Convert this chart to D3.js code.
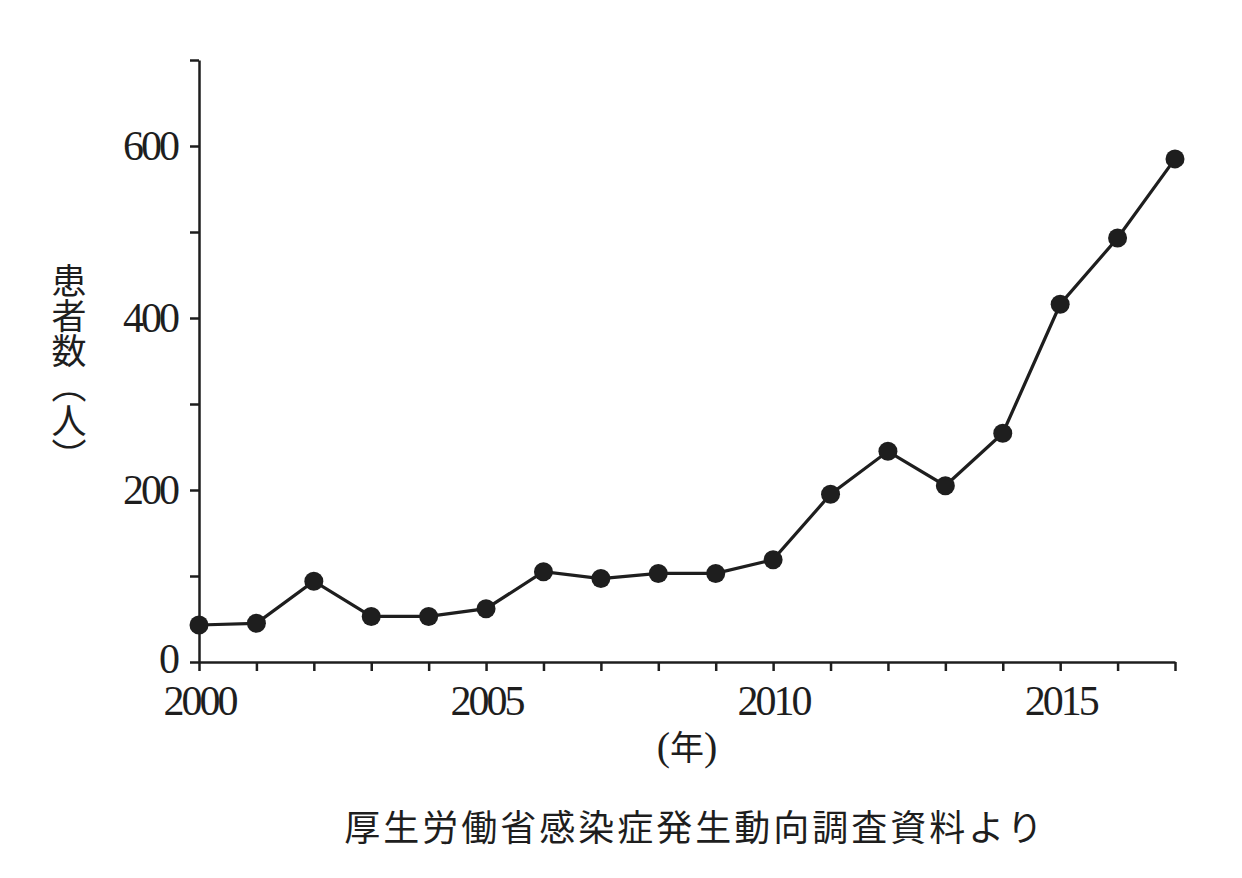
<!DOCTYPE html>
<html>
<head>
<meta charset="utf-8">
<script src="https://cdn.jsdelivr.net/npm/d3@7"></script>
<style>
body { margin: 0; background: #fff; }
</style>
</head>
<body>
<script>
var years = [2000, 2001, 2002, 2003, 2004, 2005, 2006, 2007, 2008, 2009,
             2010, 2011, 2012, 2013, 2014, 2015, 2016, 2017];
var patients = [43, 45, 94, 53, 53, 62, 105, 97, 103, 103,
                119, 195, 245, 205, 266, 416, 493, 585];
var yTicks = [0, 100, 200, 300, 400, 500, 600, 700];
var yLabels = [0, 200, 400, 600];
var xLabels = [2000, 2005, 2010, 2015];

var width = 1242, height = 878;
var ink = "#1e1e1e";
var numFont = "'Liberation Serif', 'DejaVu Serif', serif";
var cjkFont = "'Noto Sans CJK JP', 'Noto Sans CJK SC', sans-serif";

var svg = d3.select("body").append("svg")
    .attr("width", width)
    .attr("height", height);

var x = d3.scaleLinear().domain([2000, 2017]).range([199, 1175]);
var y = d3.scaleLinear().domain([0, 700]).range([662, 60]);

// y axis
var yAxis = svg.append("g")
    .attr("transform", "translate(" + x(2000) + ",0)")
    .call(d3.axisLeft(y)
        .tickValues(yTicks)
        .tickSize(9)
        .tickSizeOuter(0)
        .tickPadding(13)
        .tickFormat(function(d) { return yLabels.indexOf(d) >= 0 ? d : ""; }));

// the 0 label sits a touch higher so it clears 2000
yAxis.selectAll(".tick text")
    .filter(function(d) { return d === 0; })
    .attr("dy", "0.24em");

// x axis
var xAxis = svg.append("g")
    .attr("transform", "translate(0," + y(0) + ")")
    .call(d3.axisBottom(x)
        .tickValues(years)
        .tickSize(9)
        .tickSizeOuter(0)
        .tickPadding(14)
        .tickFormat(function(d) { return xLabels.indexOf(d) >= 0 ? d : ""; }));

svg.selectAll(".domain, .tick line")
    .attr("stroke", ink)
    .attr("stroke-width", 2.5);

svg.selectAll(".tick text")
    .attr("fill", ink)
    .attr("font-family", numFont)
    .attr("font-size", 42)
    .attr("letter-spacing", -3);

// line + markers
var line = d3.line()
    .x(function(d, i) { return x(years[i]); })
    .y(function(d) { return y(d); });

svg.append("path")
    .datum(patients)
    .attr("d", line)
    .attr("fill", "none")
    .attr("stroke", ink)
    .attr("stroke-width", 3.2);

svg.selectAll("circle.pt")
    .data(patients)
    .enter().append("circle")
    .attr("class", "pt")
    .attr("cx", function(d, i) { return x(years[i]); })
    .attr("cy", function(d) { return y(d); })
    .attr("r", 9.5)
    .attr("fill", ink);

// y title (vertical)
svg.append("text")
    .attr("x", 69)
    .attr("y", 263)
    .attr("writing-mode", "vertical-rl")
    .attr("font-family", cjkFont)
    .attr("font-size", 35)
    .attr("fill", ink)
    .attr("letter-spacing", 0)
    .text("患者数（人）");

// x title
var xt = svg.append("text")
    .attr("x", 687)
    .attr("y", 760)
    .attr("text-anchor", "middle")
    .attr("font-family", numFont)
    .attr("font-size", 40)
    .attr("fill", ink);
xt.append("tspan").text("(");
xt.append("tspan").attr("font-family", cjkFont).attr("font-size", 34).text("年");
xt.append("tspan").text(")");

// source
svg.append("text")
    .attr("x", 695)
    .attr("y", 841)
    .attr("text-anchor", "middle")
    .attr("font-family", cjkFont)
    .attr("font-size", 36)
    .attr("letter-spacing", 3)
    .attr("fill", ink)
    .text("厚生労働省感染症発生動向調査資料より");
</script>
</body>
</html>
